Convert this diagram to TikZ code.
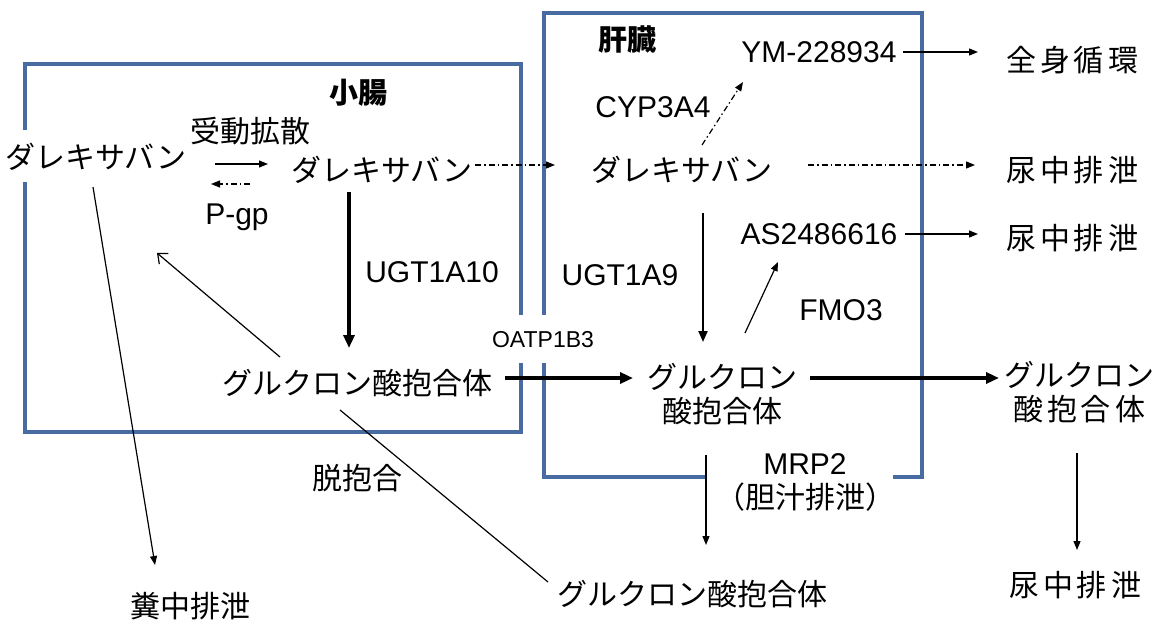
\documentclass[tikz,border=0pt]{standalone}
\usepackage{fontspec}
\setmainfont{Liberation Sans}
\newfontfamily\cjk{Noto Sans CJK JP}
\usetikzlibrary{arrows.meta}
\definecolor{boxblue}{RGB}{72,108,162}
\newcommand{\gp}{\hspace{4pt}}
\begin{document}
\begin{tikzpicture}[x=1pt,y=-1pt,
  txt/.style={inner sep=0pt,font=\fontsize{30}{34}\selectfont\cjk,align=center},
  lat/.style={inner sep=0pt,font=\fontsize{30}{34}\selectfont,align=center},
  small/.style={inner sep=0pt,font=\fontsize{23}{26}\selectfont},
  ttl/.style={inner sep=0pt,font=\fontsize{29}{34}\selectfont\cjk\bfseries},
  organ/.style={draw=boxblue,line width=3.2pt},
  thinarr/.style={line width=1.2pt,-{Triangle[length=9pt,width=7pt]}},
  thickarr/.style={line width=3.2pt,-{Triangle[length=13pt,width=11pt]}},
  medarr/.style={line width=2pt,-{Triangle[length=11pt,width=9pt]}},
  dd/.style={line width=1.2pt,dash pattern=on 6pt off 3pt on 1.5pt off 3pt,-{Triangle[length=9pt,width=7pt]}},
  openarr/.style={line width=1.2pt,-{Straight Barb[length=8pt,width=14pt]}},
  plain/.style={line width=1.2pt}]
\useasboundingbox (0,0) rectangle (1155,626);
% organ boxes
\draw[organ] (25,130) -- (25,64) -- (521,64) -- (521,315);
\draw[organ] (521,363) -- (521,432) -- (25,432) -- (25,182);
\draw[organ] (544,315) -- (544,13) -- (922,13) -- (922,477) -- (893,477);
\draw[organ] (706,477) -- (544,477) -- (544,363);
% titles
\node[ttl] (sho) at (358,93) {小腸};
\node[ttl] (kan) at (627,40) {肝臓};
% small intestine
\node[txt] (lD) at (96,157) {ダレキサバン};
\node[txt] (pd) at (250,131) {受動拡散};
\node[txt] (iD) at (382,170) {ダレキサバン};
\node[lat] (pgp) at (237,217) {P-gp};
\node[lat] (t10) at (432,272) {UGT1A10};
\node[txt] (iG) at (357,383) {グルクロン酸抱合体};
\node[small] (oatp) at (543,340) {OATP1B3};
% liver
\node[lat] (ym) at (819,52) {YM-228934};
\node[lat] (cyp) at (653,107) {CYP3A4};
\node[txt] (hD) at (682,170) {ダレキサバン};
\node[lat] (as) at (819,234) {AS2486616};
\node[lat] (t9) at (620,275) {UGT1A9};
\node[lat] (fmo) at (841,310) {FMO3};
\node[txt] (hG) at (722,394) {グルクロン\\酸抱合体};
\node[lat] (mrp) at (805,482) {MRP2\\{\cjk （胆汁排泄）}};
% outside
\node[txt] (zen) at (1072,60) {全\gp 身\gp 循\gp 環};
\node[txt] (ur1) at (1072,170) {尿\gp 中\gp 排\gp 泄};
\node[txt] (ur2) at (1072,238) {尿\gp 中\gp 排\gp 泄};
\node[txt] (rG) at (1079,392) {グルクロン\\酸\gp 抱\gp 合\gp 体};
\node[txt] (ur3) at (1075,585) {尿\gp 中\gp 排\gp 泄};
\node[txt] (bG) at (692,594) {グルクロン酸抱合体};
\node[txt] (dak) at (357,478) {脱抱合};
\node[txt] (fun) at (190,606) {糞中排泄};
% connectors
\draw[thinarr] ([shift={(119,7)}]lD.center) -- ([shift={(-114,-6)}]iD.center);
\draw[dd] ([shift={(-132,14)}]iD.center) -- ([shift={(115,27)}]lD.center);
\draw[thinarr] ([shift={(-3,30)}]lD.center) -- ([shift={(-35,-41)}]fun.center);
\draw[thickarr] ([shift={(-33,22)}]iD.center) -- ([shift={(-8,-35)}]iG.center);
\draw[dd] ([shift={(93,-5)}]iD.center) -- ([shift={(-127,-5)}]hD.center);
\draw[openarr] ([shift={(-77,-26)}]iG.center) -- ([shift={(61,96)}]lD.center);
\draw[plain] ([shift={(-17,27)}]iG.center) -- ([shift={(-144,-12)}]bG.center);
\draw[thickarr] ([shift={(148,-5)}]iG.center) -- ([shift={(-89,-16)}]hG.center);
\draw[dd] ([shift={(20,-25)}]hD.center) -- ([shift={(-76,30)}]ym.center);
\draw[dd] ([shift={(126,-5)}]hD.center) -- ([shift={(-97,-5)}]ur1.center);
\draw[thinarr] ([shift={(84,0)}]ym.center) -- ([shift={(-94,-8)}]zen.center);
\draw[thinarr] ([shift={(86,0)}]as.center) -- ([shift={(-94,-4)}]ur2.center);
\draw[medarr] ([shift={(21,43)}]hD.center) -- ([shift={(-19,-52)}]hG.center);
\draw[thinarr] ([shift={(23,-61)}]hG.center) -- ([shift={(-41,28)}]as.center);
\draw[thickarr] ([shift={(88,-16)}]hG.center) -- ([shift={(-80,-14)}]rG.center);
\draw[thinarr] ([shift={(-2,61)}]rG.center) -- ([shift={(2,-35)}]ur3.center);
\draw[thinarr] ([shift={(-16,61)}]hG.center) -- ([shift={(14,-49)}]bG.center);
\end{tikzpicture}
\end{document}
